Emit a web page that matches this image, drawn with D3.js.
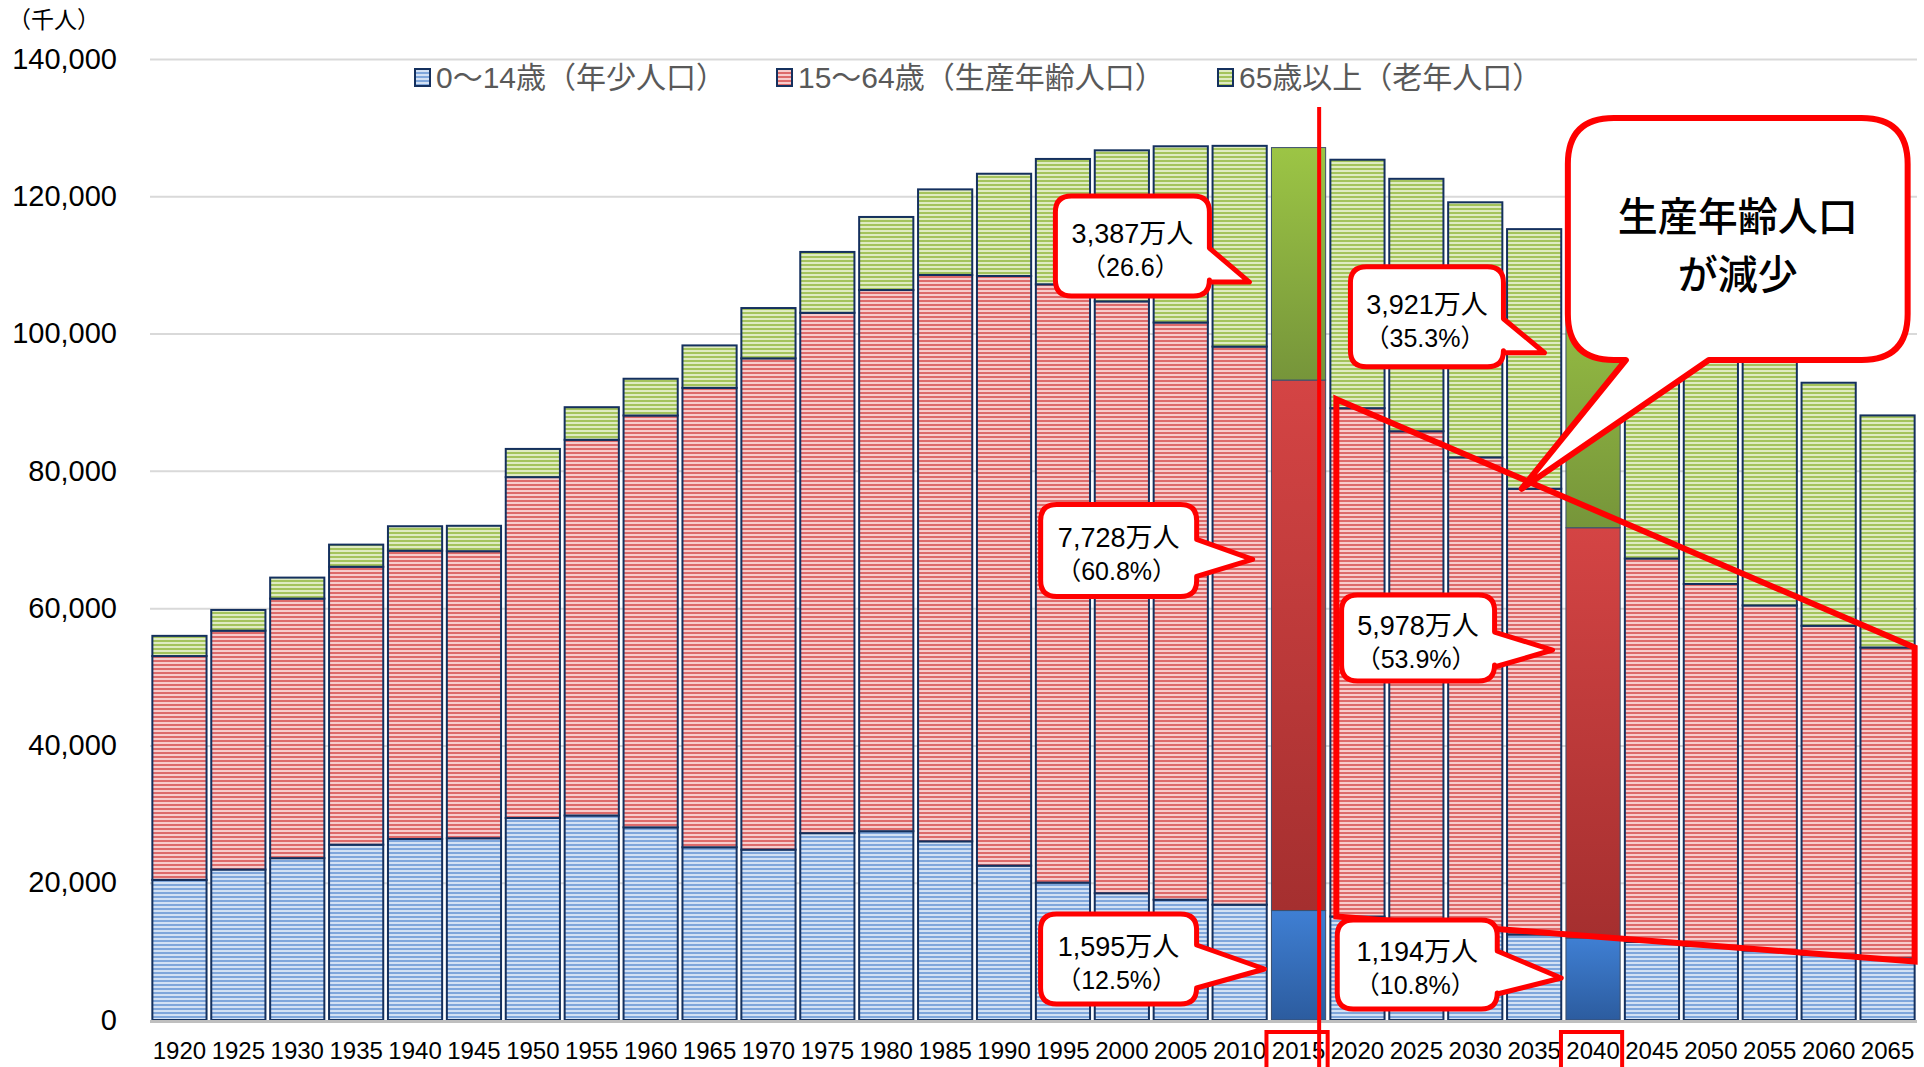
<!DOCTYPE html>
<html lang="ja">
<head>
<meta charset="UTF-8">
<title>年齢3区分別人口の推移</title>
<script src="https://d3js.org/d3.v7.min.js"></script>
<style>
  html, body { margin: 0; padding: 0; background: #fff; }
  #chart { position: relative; }
  svg text { font-family: "Liberation Sans", Arial, "Noto Sans CJK JP", sans-serif; }
  .big-note { position: absolute; font-family: "Noto Sans CJK JP", sans-serif; font-size: 40px;
              font-weight: 500; line-height: 58px; text-align: center; color: #000; white-space: nowrap; }
</style>
</head>
<body>
<div id="chart"></div>
<script>
// 年次
const years = [1920,1925,1930,1935,1940,1945,1950,1955,1960,1965,1970,1975,1980,1985,1990,
               1995,2000,2005,2010,2015,2020,2025,2030,2035,2040,2045,2050,2055,2060,2065];
// 0～14歳（千人）
const young = [20416,21924,23579,25545,26369,26477,29428,29798,28067,25166,24823,27221,27507,26033,22486,
               20014,18472,17521,16803,15945,15075,14073,13212,12457,11936,11384,10767,10123,9508,8975];
// 15～64歳（千人）
const working = [32605,34792,37807,40484,42000,41821,49658,54729,60002,66928,71566,75807,78835,82506,85904,
                 87165,86220,84092,81300,77282,74058,71701,68754,64942,59777,55845,52750,50276,47928,45291];
// 65歳以上（千人）
const old = [2941,3021,3064,3225,3564,3700,4109,4747,5350,6181,7331,8865,10647,12468,14895,
             18261,22005,25672,29246,33868,36192,36771,37160,37817,39206,39192,38406,37042,35403,33810];
const yTicks = [0,20000,40000,60000,80000,100000,120000,140000];
const seriesNames = ["0～14歳（年少人口）","15～64歳（生産年齢人口）","65歳以上（老年人口）"];
const highlightYears = [2015, 2040];

const W = 1924, H = 1067;
const plot = {left: 150, right: 1917, top: 59, bottom: 1020};

const svg = d3.select("#chart").append("svg")
  .attr("width", W).attr("height", H);

const defs = svg.append("defs");
const stripeCols = [["#7fa6db","#d3e1f4"],["#dd6a6a","#f7cccc"],["#a4c35c","#dfebc2"]];
stripeCols.forEach((c, i) => {
  const p = defs.append("pattern").attr("id", "stripe" + i)
    .attr("patternUnits", "userSpaceOnUse").attr("width", 8).attr("height", 4);
  p.append("rect").attr("width", 8).attr("height", 4).attr("fill", c[1]);
  p.append("rect").attr("width", 8).attr("height", 2).attr("fill", c[0]);
});
const solidCols = [["#3f7fd3","#2c5c9f"],["#d44444","#a52f2f"],["#9cc545","#76953a"]];
solidCols.forEach((c, i) => {
  const g = defs.append("linearGradient").attr("id", "solid" + i)
    .attr("x1", 0).attr("y1", 0).attr("x2", 0).attr("y2", 1);
  g.append("stop").attr("offset", "0%").attr("stop-color", c[0]);
  g.append("stop").attr("offset", "100%").attr("stop-color", c[1]);
});

const x = d3.scaleBand().domain(years).range([plot.left, plot.right])
  .paddingInner(0.08).paddingOuter(0.04);
const y = d3.scaleLinear().domain([0, 140000]).range([plot.bottom, plot.top]);
const bw = x.bandwidth();

// 目盛線
const yAxis = svg.append("g")
  .attr("transform", `translate(${plot.left},0)`)
  .call(d3.axisLeft(y).tickValues(yTicks).tickSize(-(plot.right - plot.left))
        .tickFormat(d3.format(",")).tickPadding(33));
yAxis.select(".domain").remove();
yAxis.selectAll("line").attr("stroke", "#d9d9d9").attr("stroke-width", 2)
  .attr("opacity", d => d === 0 ? 0 : 1);
yAxis.selectAll("text").attr("font-size", 29).attr("fill", "#000");

// 積み上げ
const rows = years.map((yr, i) => ({year: yr, vals: [young[i], working[i], old[i]]}));
const stack = d3.stack().keys([0,1,2]).value((d, k) => d.vals[k]);
const layers = stack(rows);

const barG = svg.append("g");
layers.forEach((layer, k) => {
  barG.selectAll(null).data(layer).enter().append("rect")
    .attr("x", d => x(d.data.year))
    .attr("y", d => y(d[1]))
    .attr("width", bw)
    .attr("height", d => y(d[0]) - y(d[1]))
    .attr("fill", d => highlightYears.includes(d.data.year) ? `url(#solid${k})` : `url(#stripe${k})`)
    .attr("stroke", d => highlightYears.includes(d.data.year) ? "#3b4f6e" : "#14305e")
    .attr("stroke-width", d => highlightYears.includes(d.data.year) ? 1 : 2);
});

// 横軸
svg.append("line").attr("x1", plot.left).attr("x2", plot.right)
  .attr("y1", plot.bottom + 1.5).attr("y2", plot.bottom + 1.5)
  .attr("stroke", "#bfbfbf").attr("stroke-width", 3);
const xAxis = svg.append("g")
  .attr("transform", `translate(0,${plot.bottom})`)
  .call(d3.axisBottom(x).tickSize(0).tickPadding(22));
xAxis.select(".domain").remove();
xAxis.selectAll("text").attr("font-size", 24).attr("fill", "#000");

// 単位
svg.append("text").attr("x", 8).attr("y", 28).attr("font-size", 23).attr("fill", "#000")
  .text("（千人）");

// 凡例
const legendX = [415, 777, 1218];
const legend = svg.append("g");
seriesNames.forEach((name, k) => {
  legend.append("rect").attr("x", legendX[k]).attr("y", 69).attr("width", 15).attr("height", 17)
    .attr("fill", `url(#stripe${k})`).attr("stroke", "#14305e").attr("stroke-width", 2);
  legend.append("text").attr("x", legendX[k] + 21).attr("y", 88)
    .attr("font-size", 30).attr("fill", "#595959").text(name);
});

// 注記
const ann = svg.append("g");
const red = "#ff0000";
const idx = yr => years.indexOf(yr);
const cum2 = yr => young[idx(yr)] + working[idx(yr)];

// 2015年の縦線
ann.append("line")
  .attr("x1", x(2015) + bw * 0.88).attr("x2", x(2015) + bw * 0.88)
  .attr("y1", y(133000)).attr("y2", H)
  .attr("stroke", red).attr("stroke-width", 4);

// 年ラベルの枠
highlightYears.forEach(yr => {
  ann.append("rect").attr("x", x(yr) - 5).attr("y", plot.bottom + 12)
    .attr("width", bw + 7).attr("height", 50)
    .attr("fill", "none").attr("stroke", red).attr("stroke-width", 4);
});

// 生産年齢人口の減少を囲む枠
const qL = x(2020) + 6, qR = x(2065) + bw;
ann.append("path")
  .attr("d", `M${qL},${y(cum2(2020)) - 9}L${qR},${y(cum2(2065))}L${qR},${y(young[idx(2065)]) + 3}L${qL},${y(young[idx(2020)])}Z`)
  .attr("fill", "none").attr("stroke", red).attr("stroke-width", 6).attr("stroke-linejoin", "miter");

// 吹き出し（右向き）
function calloutRight(tx, ty, w, h, dx, dy, b1, b2, r) {
  const x1 = tx - dx - w, y1 = ty - dy, x2 = x1 + w, y2 = y1 + h;
  return `M${x1 + r},${y1}H${x2 - r}Q${x2},${y1} ${x2},${y1 + r}V${y1 + b1}L${tx},${ty}L${x2},${y1 + b2}` +
         `V${y2 - r}Q${x2},${y2} ${x2 - r},${y2}H${x1 + r}Q${x1},${y2} ${x1},${y2 - r}V${y1 + r}Q${x1},${y1} ${x1 + r},${y1}Z`;
}
const callouts = [
  {yr: 2010, fx: 0.68, v: 107500, w: 154, h: 100, dx: 40, dy: 86, b1: 52, b2: 86, t1: "3,387万人", t2: "（26.6）"},
  {yr: 2010, fx: 0.74, v: 67100,  w: 156, h: 92,  dx: 56, dy: 55, b1: 35, b2: 72, t1: "7,728万人", t2: "（60.8%）"},
  {yr: 2010, fx: 0.96, v: 7430,   w: 156, h: 90,  dx: 68, dy: 55, b1: 31, b2: 74, t1: "1,595万人", t2: "（12.5%）"},
  {yr: 2035, fx: 0.69, v: 97200,  w: 153, h: 100, dx: 41, dy: 86, b1: 52, b2: 86, t1: "3,921万人", t2: "（35.3%）"},
  {yr: 2035, fx: 0.84, v: 53900,  w: 153, h: 86,  dx: 58, dy: 55, b1: 37, b2: 72, t1: "5,978万人", t2: "（53.9%）"},
  {yr: 2035, fx: 1.0,  v: 6120,   w: 160, h: 89,  dx: 64, dy: 58, b1: 31, b2: 74, t1: "1,194万人", t2: "（10.8%）"}
];
callouts.forEach(c => {
  const tx = x(c.yr) + bw * c.fx, ty = y(c.v);
  ann.append("path").attr("d", calloutRight(tx, ty, c.w, c.h, c.dx, c.dy, c.b1, c.b2, 16))
    .attr("fill", "#fff").attr("stroke", red).attr("stroke-width", 5).attr("stroke-linejoin", "round");
  const cx = tx - c.dx - c.w / 2, cy = ty - c.dy + c.h / 2;
  ann.append("text").attr("x", cx).attr("y", cy - 12).attr("text-anchor", "middle")
    .attr("dominant-baseline", "central").attr("font-size", 27).attr("fill", "#000").text(c.t1);
  ann.append("text").attr("x", cx - 2).attr("y", cy + 21).attr("text-anchor", "middle")
    .attr("dominant-baseline", "central").attr("font-size", 25).attr("fill", "#000").text(c.t2);
});

// 大きな吹き出し（下向き）
const gx1 = x(2045) - 57, gx2 = x(2065) + bw - 7, gy1 = y(131400), gy2 = y(96150), gr = 46;
const gtx = x(2035) + bw * 0.27, gty = y(cum2(2035));
const gb1 = gx1 + 58, gb2 = gx1 + 141;
ann.append("path")
  .attr("d", `M${gx1 + gr},${gy1}H${gx2 - gr}Q${gx2},${gy1} ${gx2},${gy1 + gr}V${gy2 - gr}Q${gx2},${gy2} ${gx2 - gr},${gy2}` +
             `H${gb2}L${gtx},${gty}L${gb1},${gy2}H${gx1 + gr}Q${gx1},${gy2} ${gx1},${gy2 - gr}V${gy1 + gr}Q${gx1},${gy1} ${gx1 + gr},${gy1}Z`)
  .attr("fill", "#fff").attr("stroke", red).attr("stroke-width", 6).attr("stroke-linejoin", "round");

// 吹き出し内の文（2行、1要素）
d3.select("#chart").append("div").attr("class", "big-note")
  .style("left", gx1 + "px").style("width", (gx2 - gx1) + "px")
  .style("top", "185px")
  .html("生産年齢人口<br>が減少");
</script>
</body>
</html>
